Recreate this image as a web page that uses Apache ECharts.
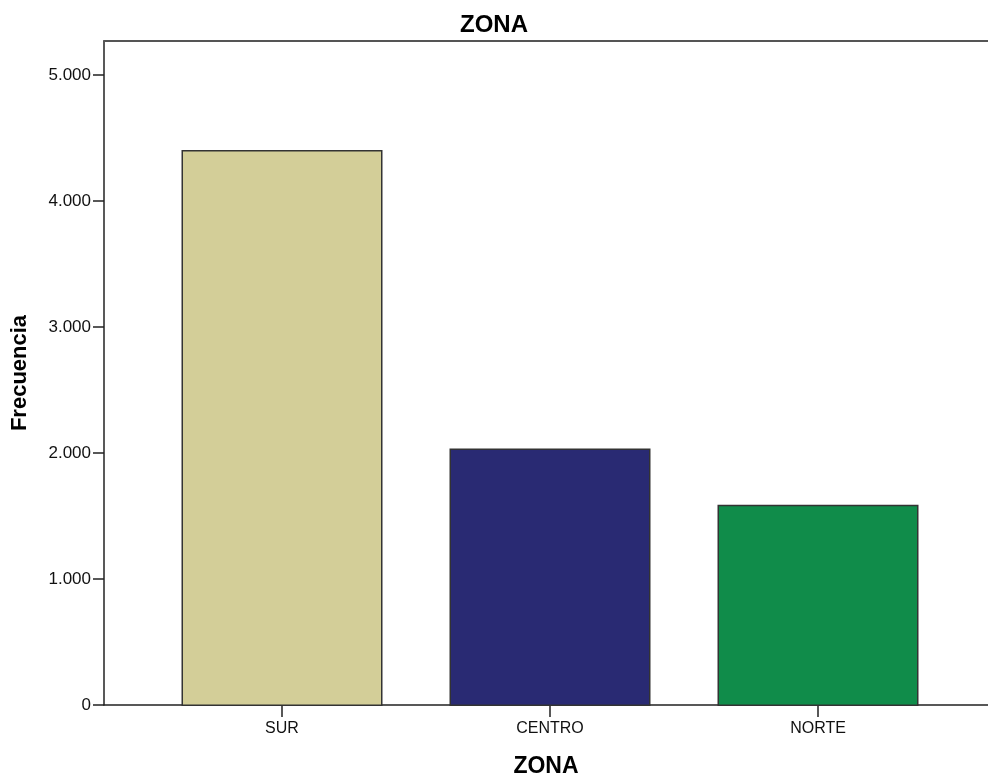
<!DOCTYPE html>
<html><head><meta charset="utf-8">
<script src="https://cdn.jsdelivr.net/npm/echarts@6/dist/echarts.min.js"></script>
<style>html,body{margin:0;padding:0;background:#fff}#c{width:988px;height:783px}</style>
</head><body><div id="c"></div>
<script>
const categories = ['SUR', 'CENTRO', 'NORTE'];
const values = [4407, 2040, 1595];
const barColors = ['#d3ce98', '#292a73', '#108c4a'];
const yTicks = [0, 1000, 2000, 3000, 4000, 5000];
const yMax = 5270;

const font = 'Liberation Sans, Arial, sans-serif';
const fmt = v => v === 0 ? '0' : (v / 1000).toFixed(3);

const chart = echarts.init(document.getElementById('c'), null, {renderer: 'canvas'});
chart.setOption({
  animation: false,
  title: {
    text: 'ZONA', left: 'center', top: 8,
    textStyle: {fontFamily: font, fontSize: 24, fontWeight: 'bold', color: '#000'}
  },
  grid: [
    {left: 104, right: 0, top: 41, bottom: 77},
    {left: 148, width: 804, top: 41, bottom: 77}
  ],
  xAxis: [
    {
      type: 'category', gridIndex: 0, data: categories, position: 'bottom',
      axisLine: {lineStyle: {color: '#222', width: 1.5}},
      axisTick: {show: false}, axisLabel: {show: false},
      name: 'ZONA', nameLocation: 'middle', nameGap: 50,
      nameTextStyle: {fontFamily: font, fontSize: 23, fontWeight: 'bold', color: '#000'}
    },
    {
      type: 'category', gridIndex: 0, data: categories, position: 'top',
      axisLine: {lineStyle: {color: '#555', width: 2}},
      axisTick: {show: false}, axisLabel: {show: false}
    },
    {
      type: 'category', gridIndex: 1, data: categories, position: 'bottom',
      axisLine: {show: false},
      axisTick: {show: true, alignWithLabel: true, length: 11, lineStyle: {color: '#222', width: 1.5}},
      axisLabel: {fontFamily: font, fontSize: 16, color: '#111', margin: 15}
    }
  ],
  yAxis: [
    {
      type: 'value', gridIndex: 0, min: 0, max: yMax, interval: 1000,
      axisLine: {show: true, lineStyle: {color: '#222', width: 1.5}},
      axisTick: {show: true, length: 11, customValues: yTicks, lineStyle: {color: '#222', width: 1.5}},
      axisLabel: {customValues: yTicks, formatter: fmt, fontFamily: font, fontSize: 17, color: '#111', margin: 13},
      splitLine: {show: false},
      name: 'Frecuencia', nameLocation: 'middle', nameGap: 73, nameRotate: 90,
      nameTextStyle: {fontFamily: font, fontSize: 22, fontWeight: 'bold', color: '#000'}
    },
    {
      type: 'value', gridIndex: 1, min: 0, max: yMax, show: false
    }
  ],
  series: [{
    type: 'bar', xAxisIndex: 2, yAxisIndex: 1,
    barCategoryGap: '25%',
    data: values.map((v, i) => ({value: v, itemStyle: {color: barColors[i]}})),
    itemStyle: {borderColor: '#333', borderWidth: 1.5}
  }]
});
</script></body></html>
